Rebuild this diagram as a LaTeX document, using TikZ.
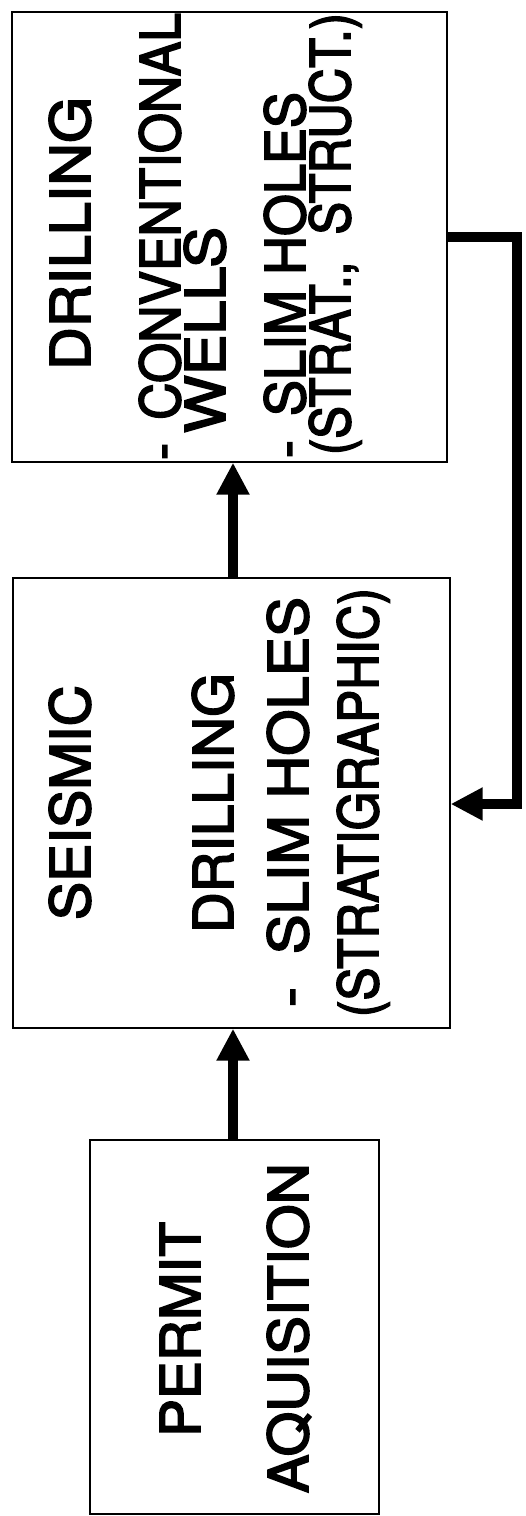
\documentclass[tikz,border=0pt]{standalone}
\usepackage{fontspec}
\usepackage{graphicx}
\usetikzlibrary{arrows.meta}
\newfontfamily\hv[FakeBold=3]{TeX Gyre Heros}
\newcommand{\fitto}[2]{\resizebox{#1pt}{\height}{#2}}
\begin{document}
\begin{tikzpicture}[x=1pt,y=-1pt,
  box/.style={draw=black, line width=1.3pt, fill=white, inner sep=0pt},
  txt/.style={rotate=90, anchor=base, inner sep=0pt, font=\hv\fontsize{55}{60}\selectfont},
  conn/.style={line width=10pt, -{Triangle[length=32pt,width=31pt]}},
  fb/.style={line width=10pt, line join=miter, -{Triangle[length=32pt,width=31pt]}}]
\useasboundingbox (0,0) rectangle (525,1516);
% boxes
\node[box, minimum width=435pt, minimum height=450pt] (drill) at (229.5,237) {};
\node[box, minimum width=437pt, minimum height=450pt] (seis) at (231.5,803) {};
\node[box, minimum width=289pt, minimum height=374pt] (perm) at (234.5,1327) {};
% box 1 texts
\node[txt] (d1) at (90,233.5) {\fitto{273}{DRILLING}};
\node[txt] (d2) at (180,236.5) {\fitto{447}{-\, CONVENTIONAL}};
\node[txt] (d3) at (225,330) {\fitto{206}{WELLS}};
\node[txt] (d4) at (305,275) {\fitto{366}{-\, SLIM HOLES}};
\node[txt] (d5) at (350,234) {\fitto{442}{(STRAT.,\ \ STRUCT.)}};
% box 2 texts
\node[txt] (s1) at (90,802.5) {\fitto{235}{SEISMIC}};
\node[txt] (s2) at (233,803) {\fitto{260}{DRILLING}};
\node[txt] (s3) at (308,802) {\fitto{410}{-\ \ SLIM HOLES}};
\node[txt] (s4) at (378,802.5) {\fitto{429}{(STRATIGRAPHIC)}};
% box 3 texts
\node[txt] (p1) at (200,1329.5) {\fitto{215}{PERMIT}};
\node[txt] (p2) at (308,1328) {\fitto{330}{AQUISITION}};
% connectors
\draw[conn] (seis.north -| 233,0) -- (drill.south -| 233,0);
\draw[conn] (perm.north -| 233,0) -- (seis.south -| 233,0);
\coordinate (fbA) at (517,237);
\coordinate (fbB) at (517,804);
\draw[fb] (drill.east |- fbA) -- (fbA) -- (fbB) -- (seis.east |- fbB);
\end{tikzpicture}
\end{document}
